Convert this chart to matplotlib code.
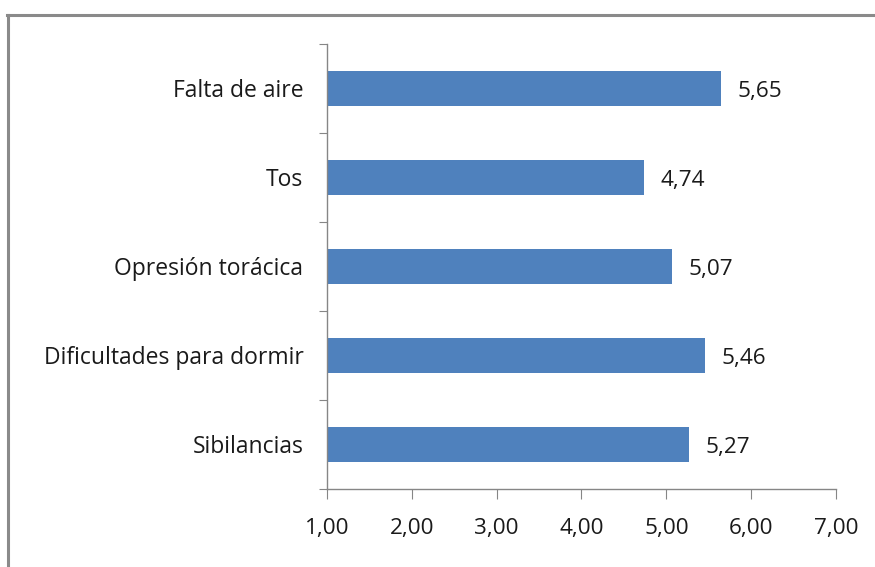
import matplotlib
matplotlib.use('Agg')
from matplotlib import pyplot as plt
from matplotlib.lines import Line2D

plt.rcParams['font.family'] = ['Open Sans', 'DejaVu Sans']

categories = ['Falta de aire', 'Tos', 'Opresión torácica',
              'Dificultades para dormir', 'Sibilancias']
values = [5.65, 4.74, 5.07, 5.46, 5.27]
x_ticks = [1, 2, 3, 4, 5, 6, 7]
x_tick_labels = ['1,00', '2,00', '3,00', '4,00', '5,00', '6,00', '7,00']

bar_color = '#4f81bd'
axis_color = '#868686'
text_color = '#1a1a1a'
label_size = 16.5
num_size = 16.2

fig = plt.figure(figsize=(8.75, 5.67), dpi=100)
ax = fig.add_axes([0.3737, 0.1376, 0.9554 - 0.3737, 0.9224 - 0.1376])

pos = list(range(len(categories)))
ax.barh(pos, [v - 1 for v in values], left=1, height=0.4, color=bar_color)

for p, v in zip(pos, values):
    ax.text(v + 0.19, p + 0.03, f'{v:.2f}'.replace('.', ','), va='center',
            ha='left', fontsize=num_size, color=text_color)

ax.set_xlim(1, 7)
ax.set_ylim(len(categories) - 0.5, -0.5)

ax.set_xticks(x_ticks)
ax.set_xticklabels(x_tick_labels, fontsize=num_size, color=text_color)
ax.tick_params(axis='x', length=7, color=axis_color, pad=14)

ax.set_yticks([p - 0.5 for p in pos] + [len(categories) - 0.5])
ax.set_yticklabels([])
ax.tick_params(axis='y', which='major', length=6, color=axis_color)
ax.set_yticks(pos, minor=True)
ax.set_yticklabels(categories, minor=True, fontsize=label_size, color=text_color)
ax.tick_params(axis='y', which='minor', length=0, pad=17)

for side in ['top', 'right']:
    ax.spines[side].set_visible(False)
for side in ['left', 'bottom']:
    ax.spines[side].set_color(axis_color)
    ax.spines[side].set_linewidth(1)

# outer chart border (only top and left visible in the crop)
fig.add_artist(Line2D([6.5 / 875, 1], [1 - 14.5 / 567, 1 - 14.5 / 567],
                      transform=fig.transFigure, color='#8a8a8a', linewidth=2.2))
fig.add_artist(Line2D([7.5 / 875, 7.5 / 875], [0, 1 - 14.5 / 567],
                      transform=fig.transFigure, color='#8a8a8a', linewidth=2.2))

fig.savefig('out.png', dpi=100)
